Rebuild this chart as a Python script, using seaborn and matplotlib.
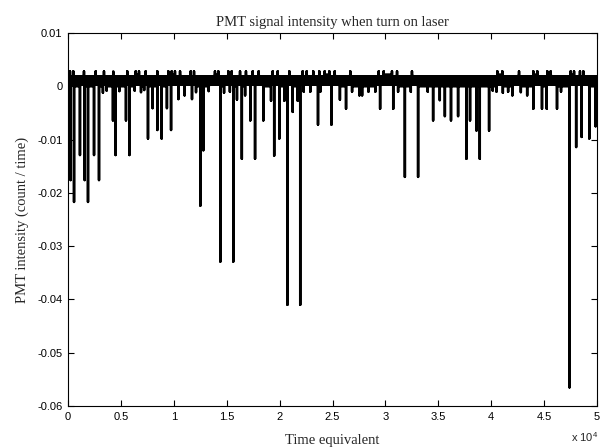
import numpy as np
import pandas as pd
import matplotlib
matplotlib.use("Agg")
import matplotlib.pyplot as plt
import seaborn as sns

# Downward spikes (time, intensity at spike tip)
spike_time = [60, 250, 570, 1130, 1580, 1890, 2460, 2930, 3300, 3650, 4250, 4500,
              4850, 5480, 5800, 6300, 6900, 7200, 7560, 8000, 8440, 8850, 9350,
              9740, 10430, 11020, 11720, 12100, 12510, 12790, 13300, 14400, 14750,
              15300, 15620, 15970, 16430, 16740, 17230, 17680, 18460, 19190, 19490,
              19970, 20450, 20740, 21240, 21710, 21950, 22280, 22900, 23630, 23850,
              24900, 25700, 26280, 26850, 27540, 27800, 28400, 29050, 29500, 30740,
              31200, 31840, 32400, 33090, 34000, 34510, 35140, 35620, 36200, 36870,
              37660, 38000, 38610, 38920, 39800, 40140, 40500, 41100, 41600, 42000,
              42800, 43400, 43980, 44800, 45250, 46220, 46600, 47400, 48030, 48550,
              49270, 49870]
spike_depth = [-0.0064, -0.0176, -0.0217, -0.0129, -0.0176, -0.0217, -0.0129, -0.0176,
               -0.0012, -0.0008, -0.0064, -0.0129, -0.0009, -0.0064, -0.0129, -0.0008,
               -0.0011, -0.0007, -0.0098, -0.0041, -0.0082, -0.0098, -0.0041, -0.0082,
               -0.0024, -0.0017, -0.0024, -0.0011, -0.0224, -0.0120, -0.0009, -0.0329,
               -0.0012, -0.0010, -0.0329, -0.0025, -0.0136, -0.0017, -0.0064, -0.0136,
               -0.0064, -0.0027, -0.0130, -0.0098, -0.0027, -0.0410, -0.0048, -0.0027,
               -0.0410, -0.0010, -0.0010, -0.0072, -0.0010, -0.0072, -0.0025, -0.0042,
               -0.0010, -0.0017, -0.0017, -0.0010, -0.0010, -0.0042, -0.0042, -0.0010,
               -0.0170, -0.0010, -0.0170, -0.0010, -0.0064, -0.0026, -0.0056, -0.0064,
               -0.0056, -0.0136, -0.0064, -0.0083, -0.0136, -0.0083, -0.0008, -0.0010,
               -0.0012, -0.0010, -0.0017, -0.0011, -0.0017, -0.0042, -0.0042, -0.0042,
               -0.0042, -0.0010, -0.0565, -0.0114, -0.0095, -0.0098, -0.0075]

# Small upward blips on top of the noise band
bump_time = [190, 500, 1510, 2620, 3400, 4280, 5600, 6400, 6710, 7340, 8440, 9480,
             9800, 10110, 10590, 11600, 11910, 13890, 14210, 15150, 15470, 16260,
             16820, 17460, 18020, 19350, 19820, 20920, 22180, 22560, 23180, 23750,
             24260, 24700, 25210, 26680, 29370, 29840, 30620, 31100, 32510, 40580,
             41050, 42630, 43980, 44360, 45300, 45620, 47510, 47830, 48390, 48710]
bump_level = 0.0028

# Noise band around zero (dense oscillation)
band_low = 0.0
band_high = 0.0022

x_ticks = [0, 0.5, 1, 1.5, 2, 2.5, 3, 3.5, 4, 4.5, 5]
y_ticks = [0.01, 0, -0.01, -0.02, -0.03, -0.04, -0.05, -0.06]
y_tick_labels = ["0.01", "0", "-0.01", "-0.02", "-0.03", "-0.04", "-0.05", "-0.06"]

sns.set_theme(style="ticks")
plt.rcParams['font.family'] = ['Liberation Sans', 'DejaVu Sans']
plt.rcParams['axes.unicode_minus'] = False
plt.rcParams['mathtext.default'] = 'regular'

# Build the signal path: each event goes out from its baseline and back
events = [(t, 0.0, d) for t, d in zip(spike_time, spike_depth)]
events += [(t, band_high, bump_level) for t in bump_time]
events.sort()
rows = []
for t, base, peak in events:
    rows += [(t, base), (t, peak), (t, base)]
df = pd.DataFrame(rows, columns=["time", "signal"])

fig = plt.figure(figsize=(6, 4.48), dpi=100)
ax = fig.add_axes([68 / 600, 1 - 406 / 448, (597 - 68) / 600, (406 - 33) / 448])

ax.fill_between([0, 50000], band_low, band_high, color="black", lw=0)
sns.lineplot(data=df, x="time", y="signal", sort=False, estimator=None,
             color="black", lw=1.8, ax=ax)
for line in ax.get_lines():
    line.set_solid_capstyle("butt")

ax.set_xlim(0, 50000)
ax.set_ylim(-0.06, 0.01)
ax.set_xticks([v * 1e4 for v in x_ticks])
ax.set_xticklabels([f"{v:g}" for v in x_ticks])
ax.set_yticks(y_ticks)
ax.set_yticklabels(y_tick_labels)
ax.tick_params(direction="in", top=True, right=True, length=4, width=0.8,
               labelsize=8, color="black", labelcolor="black", pad=4)
for s in ax.spines.values():
    s.set_color("black")
    s.set_linewidth(0.8)

serif = ['Liberation Serif', 'DejaVu Serif']
ax.set_title("PMT signal intensity when turn on laser", family=serif, fontsize=10.5, pad=5)
ax.set_xlabel("Time equivalent", family=serif, fontsize=10.5, labelpad=9)
ax.set_ylabel("PMT intensity (count / time)", family=serif, fontsize=10.5, labelpad=6)
fig.text(0.975, 0.008, "x 10$^{4}$", fontsize=8, ha="center", va="bottom")

fig.savefig("out.png", dpi=100)
